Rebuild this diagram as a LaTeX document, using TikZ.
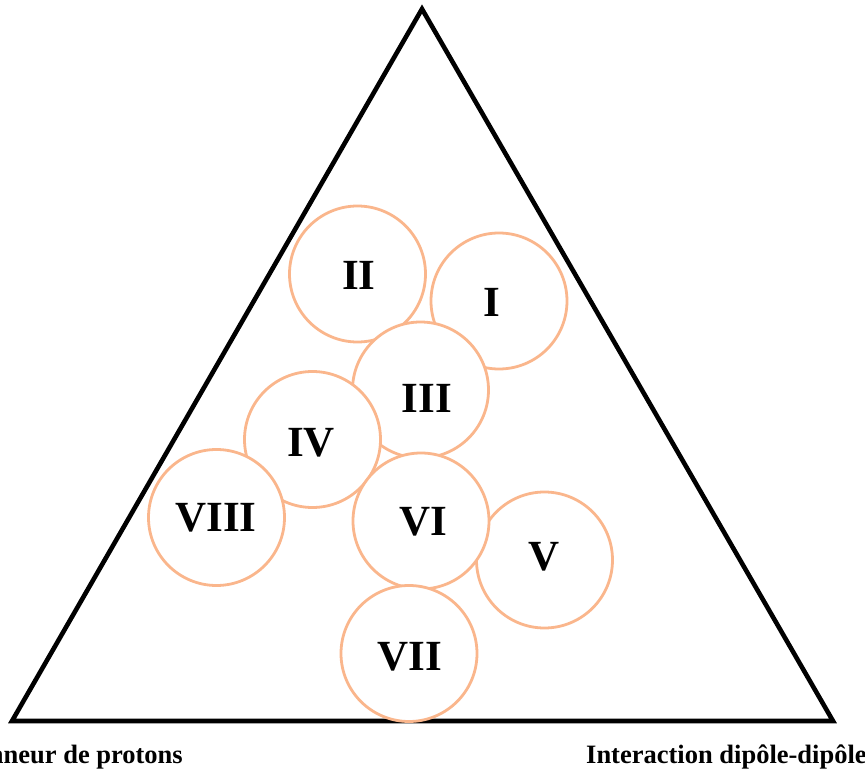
\documentclass[tikz,border=0pt]{standalone}
\usepackage{fontspec}
\setmainfont{Liberation Serif}
\definecolor{zoneorange}{RGB}{250,182,140}
\tikzset{tri/.style={line width=4.6pt,line join=miter},
         zone/.style={circle,draw=zoneorange,fill=white,line width=2.8pt,inner sep=0pt,minimum size=136pt},
         zonelab/.style={font=\fontsize{43}{43}\selectfont\bfseries,inner sep=0pt},
         axislab/.style={font=\fontsize{26.5}{26.5}\selectfont\bfseries,inner sep=0pt}}

\begin{document}
\begin{tikzpicture}[x=1pt,y=-1pt]
  \useasboundingbox (0,0) rectangle (865,770);
  % triangle
  \coordinate (top) at (422,9);
  \coordinate (left) at (12,721);
  \coordinate (right) at (833,721);
  \draw[tri] (top)--(left)--(right)--cycle;
  \node[axislab,anchor=base east] (lefttxt) at (183,763) {Donneur de protons};
  \node[axislab,anchor=base west] (righttxt) at (586,763) {Interaction dipôle-dipôle};
  % zones, drawn back to front
  \foreach \n/\cx/\cy/\lx/\ly/\t in {1/499/301/492/302/I,2/357.5/274/359/275/II,
      5/544.5/560/544/557/V,3/420.5/390/427/398/III,4/312.5/439.5/311/443/IV,
      8/216.5/517.5/216/518/VIII,6/421/521/423/522/VI,7/409/653.5/410/657/VII}
     {\node[zone] (c\n) at (\cx,\cy) {}; \node[zonelab] (l\n) at (\lx,\ly) {\t};}
\end{tikzpicture}
\end{document}
